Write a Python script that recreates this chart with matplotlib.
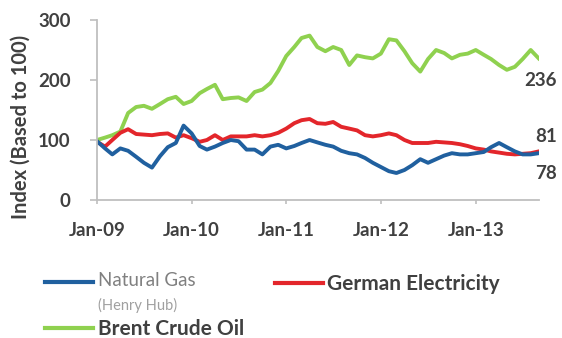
import numpy as np
import pandas as pd
import matplotlib
matplotlib.use("Agg")
import matplotlib.pyplot as plt
import matplotlib.dates as mdates
from matplotlib.lines import Line2D

# monthly index values, Jan-09 .. Sep-13 (based to 100)
months = pd.date_range("2009-01-01", periods=57, freq="MS")

natural_gas = [
    98, 86, 76, 86, 82, 72, 62, 54, 73, 88, 95, 124,
    111, 90, 84, 89, 95, 100, 98, 84, 84, 76, 89, 92,
    86, 90, 95, 100, 96, 92, 89, 82, 78, 76, 70, 62,
    55, 48, 45, 50, 58, 68, 62, 68, 74, 78, 76, 76,
    78, 80, 88, 95, 88, 81, 76, 76, 78,
]
german_electricity = [
    97, 89, 100, 112, 118, 110, 109, 108, 110, 111, 104, 108,
    103, 97, 100, 108, 100, 106, 106, 106, 108, 106, 108, 112,
    119, 128, 133, 135, 128, 127, 130, 122, 119, 116, 108, 106,
    108, 111, 108, 100, 95, 95, 95, 97, 96, 95, 93, 90,
    86, 84, 81, 79, 77, 76, 77, 78, 81,
]
brent_crude = [
    100, 104, 108, 114, 145, 155, 157, 152, 160, 168, 172, 160,
    165, 178, 185, 192, 168, 170, 171, 165, 180, 184, 195, 215,
    240, 255, 270, 274, 255, 248, 255, 250, 225, 241, 238, 236,
    244, 268, 266, 248, 228, 214, 235, 250, 245, 236, 242, 244,
    250, 242, 235, 225, 217, 222, 235, 250, 236,
]

series_names = ["Natural Gas", "German Electricity", "Brent Crude Oil"]
y_ticks = [0, 100, 200, 300]

BLUE = "#20609f"
RED = "#e3262b"
GREEN = "#8fd14f"
DARK = "#404040"
AXIS = "#bfbfbf"
FONT = "Lato"

fig = plt.figure(figsize=(5.62, 3.38), dpi=100)
ax = fig.add_axes([0.1726, 0.4083, 0.786, 0.5325])

ax.plot(months, brent_crude, color=GREEN, lw=2.8, solid_joinstyle="round")
ax.plot(months, german_electricity, color=RED, lw=2.8, solid_joinstyle="round")
ax.plot(months, natural_gas, color=BLUE, lw=2.8, solid_joinstyle="round")

ax.set_xlim(months[0], months[-1])
ax.set_ylim(0, 300)
ax.set_yticks(y_ticks)
ax.xaxis.set_major_locator(mdates.YearLocator(month=1, day=1))
ax.xaxis.set_major_formatter(mdates.DateFormatter("%b-%y"))

for side in ["top", "right"]:
    ax.spines[side].set_visible(False)
for side in ["left", "bottom"]:
    ax.spines[side].set_color(AXIS)
    ax.spines[side].set_linewidth(1.3)
ax.tick_params(axis="y", length=5, width=1.2, color=AXIS, pad=14,
               labelsize=13.5, labelcolor=DARK)
ax.tick_params(axis="x", length=3, width=1.2, color=AXIS, pad=13,
               labelsize=13.5, labelcolor=DARK)
for lbl in ax.get_xticklabels() + ax.get_yticklabels():
    lbl.set_fontfamily(FONT)
    lbl.set_fontweight("bold")

fig.text(0.036, 0.625, "Index (Based to 100)", rotation=90, ha="center",
         va="center", fontsize=14.5, fontweight="bold", color=DARK,
         family=FONT)

# end-of-series value labels
end_offsets = [(18, -20), (18, 15), (18, -22)]
for vals, (dx, dy) in zip([natural_gas, german_electricity, brent_crude],
                          end_offsets):
    ax.annotate(f"{vals[-1]}", xy=(months[-1], vals[-1]),
                xytext=(dx, dy), textcoords="offset pixels",
                ha="right", va="center", fontsize=13.5, fontweight="bold",
                color=DARK, family=FONT, annotation_clip=False)

# legend drawn by hand under the chart
W, H = 562, 338
def legend_line(x0, x1, y, color):
    fig.add_artist(Line2D([x0 / W, x1 / W], [1 - y / H, 1 - y / H],
                          color=color, lw=3, transform=fig.transFigure))

legend_line(45, 93, 282, BLUE)
fig.text(98 / W, 1 - 280 / H, series_names[0], ha="left", va="center",
         fontsize=13.5, color="#808080", family=FONT)
fig.text(98 / W, 1 - 305 / H, "(Henry Hub)", ha="left", va="center",
         fontsize=10.5, color="#a0a0a0", family=FONT)

legend_line(275, 323, 283, RED)
fig.text(327 / W, 1 - 284 / H, series_names[1], ha="left", va="center",
         fontsize=15, fontweight="bold", color=DARK, family=FONT)

legend_line(45, 93, 328, GREEN)
fig.text(98 / W, 1 - 335 / H, series_names[2], ha="left", va="baseline",
         fontsize=15, fontweight="bold", color=DARK, family=FONT)

fig.savefig("out.png", dpi=100)
